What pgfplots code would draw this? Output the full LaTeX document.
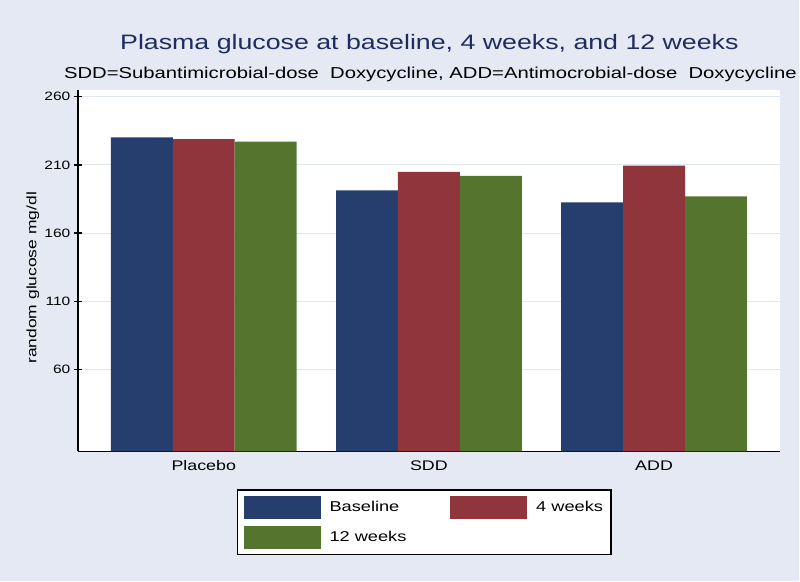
\documentclass[border=0pt]{standalone}
\usepackage{pgfplots}
\pgfplotsset{compat=1.18}
\usepackage{fontspec}
\setmainfont[FakeStretch=1.28]{Liberation Sans}
\definecolor{bgc}{RGB}{229,233,243}
\definecolor{gridc}{RGB}{225,231,240}
\definecolor{snavy}{RGB}{38,62,110}
\definecolor{smaroon}{RGB}{144,53,59}
\definecolor{sgreen}{RGB}{85,117,47}
\definecolor{titc}{RGB}{30,45,95}
\begin{document}
\begin{tikzpicture}
\fill[bgc] (0,0) rectangle (800bp,582bp);
\node[font=\fontsize{21}{24}\selectfont, text=titc] at (430bp,538bp) {Plasma glucose at baseline, 4 weeks, and 12 weeks};
\node[font=\fontsize{15.9}{18}\selectfont] at (431bp,507bp) {SDD=Subantimicrobial-dose\ \ Doxycycline, ADD=Antimocrobial-dose\ \ Doxycycline};
\begin{axis}[
  at={(78bp,130bp)}, anchor=south west,
  scale only axis, width=703bp, height=362bp,
  xmin=-0.559, xmax=2.559, ymin=0, ymax=265,
  ybar=0pt, bar width=62bp,
  axis x line*=bottom, axis y line*=left,
  axis line style={black, line width=1.5bp, -},
  axis background/.style={fill=white},
  xtick={0,1,2}, xticklabels={Placebo,SDD,ADD},
  major x tick style={draw=none},
  ytick={60,110,160,210,260},
  tick align=center, major tick length=8bp,
  major y tick style={black, line width=1.3bp},
  ymajorgrids, grid style={gridc, line width=1bp},
  /pgf/number format/assume math mode=true,
  yticklabel style={font=\fontsize{12.2}{14}\selectfont},
  xticklabel style={font=\fontsize{14}{16}\selectfont, yshift=-2bp},
  ylabel={random glucose mg/dl},
  ylabel style={font=\fontsize{13.7}{15}\selectfont, at={(axis description cs:-0.064,0.48)}, anchor=center, rotate=0},
  legend columns=2,
  legend style={at={(axis description cs:0.4935,-0.105)}, anchor=north, draw=black, line width=1.2bp, fill=white,
    font=\fontsize{14.3}{16}\selectfont, inner xsep=6bp, inner ysep=6bp,
    row sep=7bp,
    /tikz/every odd column/.append style={column sep=7bp},
    /tikz/every even column/.append style={column sep=42bp},
    cells={anchor=west}},
  legend image code/.code={\fill[#1, draw=none] (0bp,-11.5bp) rectangle (77bp,11.5bp);},
]
\addplot[fill=snavy, draw=none] coordinates {(0,230.1) (1,191.4) (2,182.5)};
\addplot[fill=smaroon, draw=none] coordinates {(0,228.9) (1,204.9) (2,209.5)};
\addplot[fill=sgreen, draw=none] coordinates {(0,227.1) (1,201.9) (2,187.0)};
\legend{Baseline, 4 weeks, 12 weeks}
\end{axis}
\end{tikzpicture}
\end{document}
